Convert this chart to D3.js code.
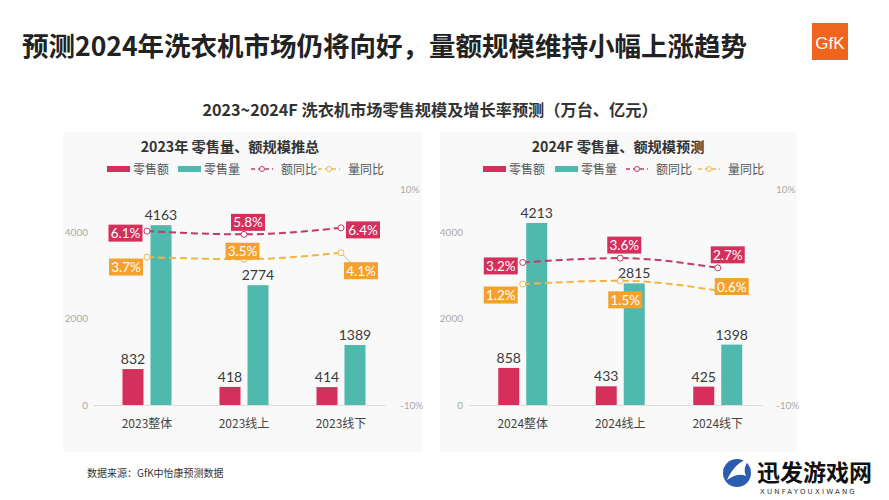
<!DOCTYPE html>
<html><head><meta charset="utf-8">
<script src="https://cdn.jsdelivr.net/npm/d3@7"></script>
<style>
body{margin:0;background:#fff;}
svg{display:block;font-family:"Noto Sans CJK SC","Noto Sans",sans-serif;}
.num{font-family:Lato,"Noto Sans",sans-serif;}
</style></head>
<body><svg id="c" width="889" height="500"></svg>
<script>
// ---- data ----
const cats2023 = ["2023整体", "2023线上", "2023线下"];
const amount2023 = [832, 418, 414];
const volume2023 = [4163, 2774, 1389];
const amtYoY2023 = [6.1, 5.8, 6.4];
const volYoY2023 = [3.7, 3.5, 4.1];

const cats2024 = ["2024整体", "2024线上", "2024线下"];
const amount2024 = [858, 433, 425];
const volume2024 = [4213, 2815, 1398];
const amtYoY2024 = [3.2, 3.6, 2.7];
const volYoY2024 = [1.2, 1.5, 0.6];

const leftTicks = [0, 2000, 4000];
const rightTicks = [-10, 10];
const legendNames = ["零售额", "零售量", "额同比", "量同比"];

const mainTitle = "预测2024年洗衣机市场仍将向好，量额规模维持小幅上涨趋势";
const subTitle = "2023~2024F 洗衣机市场零售规模及增长率预测（万台、亿元）";
const source = "数据来源：GfK中怡康预测数据";

// ---- styles ----
const C = {red:"#d5305c", teal:"#4fb9ae", redLine:"#c43a62", orange:"#f4a12f", orangeLine:"#f3b446", text:"#333", tick:"#aaa"};

const svg = d3.select("#c");

svg.append("text").attr("x",22).attr("y",56).attr("font-size",26.5).attr("font-weight","bold").attr("fill","#222").text(mainTitle);
svg.append("text").attr("x",430).attr("y",116).attr("text-anchor","middle").attr("font-size",16.2).attr("font-weight","bold").attr("fill","#333").text(subTitle);

// GfK logo
const logo = svg.append("g");
logo.append("rect").attr("x",812).attr("y",23).attr("width",36).attr("height",37).attr("fill","#f0641e");
logo.append("text").attr("x",830).attr("y",49).attr("text-anchor","middle").attr("font-size",17).attr("fill","#fff").attr("font-family","Liberation Sans Narrow, Liberation Sans, sans-serif").text("GfK");

function panel(cfg){
  const g = svg.append("g");
  g.append("rect").attr("x",cfg.box[0]).attr("y",132).attr("width",cfg.box[1]-cfg.box[0]).attr("height",320).attr("fill","#f9f9f9");
  g.append("text").attr("x",cfg.titleX).attr("y",152).attr("text-anchor","middle").attr("font-size",14.2).attr("font-weight","bold").attr("fill","#333").text(cfg.title);

  const y = d3.scaleLinear().domain([0,5000]).range([405,189]);
  const yr = d3.scaleLinear().domain([-10,10]).range([405,189]);
  const x0 = d3.scaleBand().domain(cfg.cats).range(cfg.xr).padding(0);
  const x1 = d3.scaleBand().domain(["a","v"]).range([-24.5,24.5]).paddingInner(0.25);
  const cx = d => x0(d) + x0.bandwidth()/2;

  // legend
  const lg = g.append("g").attr("font-size",12).attr("fill","#555");
  const L = cfg.legend;
  lg.append("rect").attr("x",L[0]).attr("y",166).attr("width",23).attr("height",6).attr("fill",C.red);
  lg.append("text").attr("x",L[0]+26).attr("y",174).text(legendNames[0]);
  lg.append("rect").attr("x",L[1]).attr("y",166).attr("width",23).attr("height",6).attr("fill",C.teal);
  lg.append("text").attr("x",L[1]+26).attr("y",174).text(legendNames[1]);
  [[L[2],C.redLine,legendNames[2]],[L[3],C.orangeLine,legendNames[3]]].forEach(([lx,col,name])=>{
    lg.append("line").attr("x1",lx).attr("x2",lx+22).attr("y1",169).attr("y2",169).attr("stroke",col).attr("stroke-width",1.5).attr("stroke-dasharray","4,3");
    lg.append("circle").attr("cx",lx+11).attr("cy",169).attr("r",2.5).attr("fill","#fff").attr("stroke",col).attr("stroke-width",1);
    lg.append("text").attr("x",lx+30).attr("y",174).text(name);
  });

  // axes
  const ax = d3.axisLeft(y).tickValues(leftTicks).tickSize(0).tickPadding(0).tickFormat(d3.format("d"));
  const axG = g.append("g").attr("transform",`translate(${cfg.lAxis},0)`).call(ax);
  axG.select(".domain").remove();
  axG.selectAll("text").attr("class","num").attr("fill",C.tick).attr("font-size",10);
  const ar = d3.axisRight(yr).tickValues(rightTicks).tickSize(0).tickPadding(0).tickFormat(d=>d+"%");
  const arG = g.append("g").attr("transform",`translate(${cfg.rAxis},0)`).call(ar);
  arG.select(".domain").remove();
  arG.selectAll("text").attr("class","num").attr("fill",C.tick).attr("font-size",10);

  g.append("line").attr("x1",cfg.xr[0]-5).attr("x2",cfg.xr[1]-4).attr("y1",405.5).attr("y2",405.5).attr("stroke","#ddd");

  // bars
  const series = [["a",cfg.amount,C.red],["v",cfg.volume,C.teal]];
  series.forEach(([k,vals,col])=>{
    g.selectAll(null).data(vals).join("rect")
      .attr("x",(d,i)=>cx(cfg.cats[i])+x1(k)).attr("width",x1.bandwidth())
      .attr("y",d=>y(d)).attr("height",d=>y(0)-y(d)).attr("fill",col);
    g.selectAll(null).data(vals).join("text").attr("class","num")
      .attr("x",(d,i)=>cx(cfg.cats[i])+x1(k)+x1.bandwidth()/2).attr("y",d=>y(d)-5)
      .attr("text-anchor","middle").attr("font-size",14).attr("fill","#3a3a3a").text(d=>d);
  });

  // category labels
  g.selectAll(null).data(cfg.cats).join("text")
    .attr("x",d=>cx(d)).attr("y",428).attr("text-anchor","middle").attr("font-size",12).attr("fill","#444").text(d=>d);

  // lines
  const line = d3.line().x((d,i)=>cx(cfg.cats[i])).y(d=>yr(d)).curve(d3.curveMonotoneX);
  [[cfg.volYoY,C.orangeLine,C.orange,cfg.volOff],[cfg.amtYoY,C.redLine,C.red,cfg.amtOff]].forEach(([vals,lc,bc,off])=>{
    g.append("path").attr("d",line(vals)).attr("fill","none").attr("stroke",lc).attr("stroke-width",2).attr("stroke-dasharray","7,4");
    vals.forEach((v,i)=>{
      const px = cx(cfg.cats[i]), py = yr(v);
      const [dx,dy,leader] = off[i];
      if(leader){
        g.append("line").attr("x1",px).attr("y1",py).attr("x2",px+dx-10).attr("y2",py+dy-8).attr("stroke","#bbb").attr("stroke-width",1);
      }
      g.append("circle").attr("cx",px).attr("cy",py).attr("r",3).attr("fill","#fff").attr("stroke",lc).attr("stroke-width",1);
      g.append("rect").attr("x",px+dx-17).attr("y",py+dy-8.5).attr("width",34).attr("height",17).attr("fill",bc);
      g.append("text").attr("class","num").attr("x",px+dx).attr("y",py+dy+5).attr("text-anchor","middle")
        .attr("font-size",13.5).attr("fill","#fff").text(v.toFixed(1)+"%");
    });
  });
}

panel({box:[63,422], title:"2023年 零售量、额规模推总", titleX:230, cats:cats2023, xr:[98.5,389.5],
  amount:amount2023, volume:volume2023, amtYoY:amtYoY2023, volYoY:volYoY2023,
  legend:[107,178,251,318], lAxis:88, rAxis:400,
  amtOff:[[-21.5,2],[4,-12],[22,2]], volOff:[[-21,10],[-1.5,-8],[20,18,true]]});

panel({box:[440,797], title:"2024F 零售量、额规模预测", titleX:618, cats:cats2024, xr:[474,766.5],
  amount:amount2024, volume:volume2024, amtYoY:amtYoY2024, volYoY:volYoY2024,
  legend:[483,555,626,698], lAxis:463, rAxis:776,
  amtOff:[[-22,3.5],[4,-13],[10,-13]], volOff:[[-22,11],[5,19],[14,-4]]});

svg.append("text").attr("x",87).attr("y",477).attr("font-size",10).attr("fill","#333").text(source);

// watermark
const wm = svg.append("g");
wm.append("circle").attr("cx",737).attr("cy",473).attr("r",14).attr("fill","#2a5db0");
wm.append("path").attr("d","M727,480 Q735,462 750,458 Q742,468 746,476 Q738,472 727,480Z").attr("fill","#fff");
wm.append("text").attr("x",757).attr("y",481).attr("font-size",23).attr("font-weight","bold").attr("fill","#111").attr("font-family","Noto Sans CJK SC, serif").text("迅发游戏网");
wm.append("text").attr("x",760).attr("y",494).attr("font-size",7).attr("letter-spacing",2.2).attr("fill","#333").attr("font-family","DejaVu Sans, sans-serif").text("XUNFAYOUXIWANG");
</script></body></html>
